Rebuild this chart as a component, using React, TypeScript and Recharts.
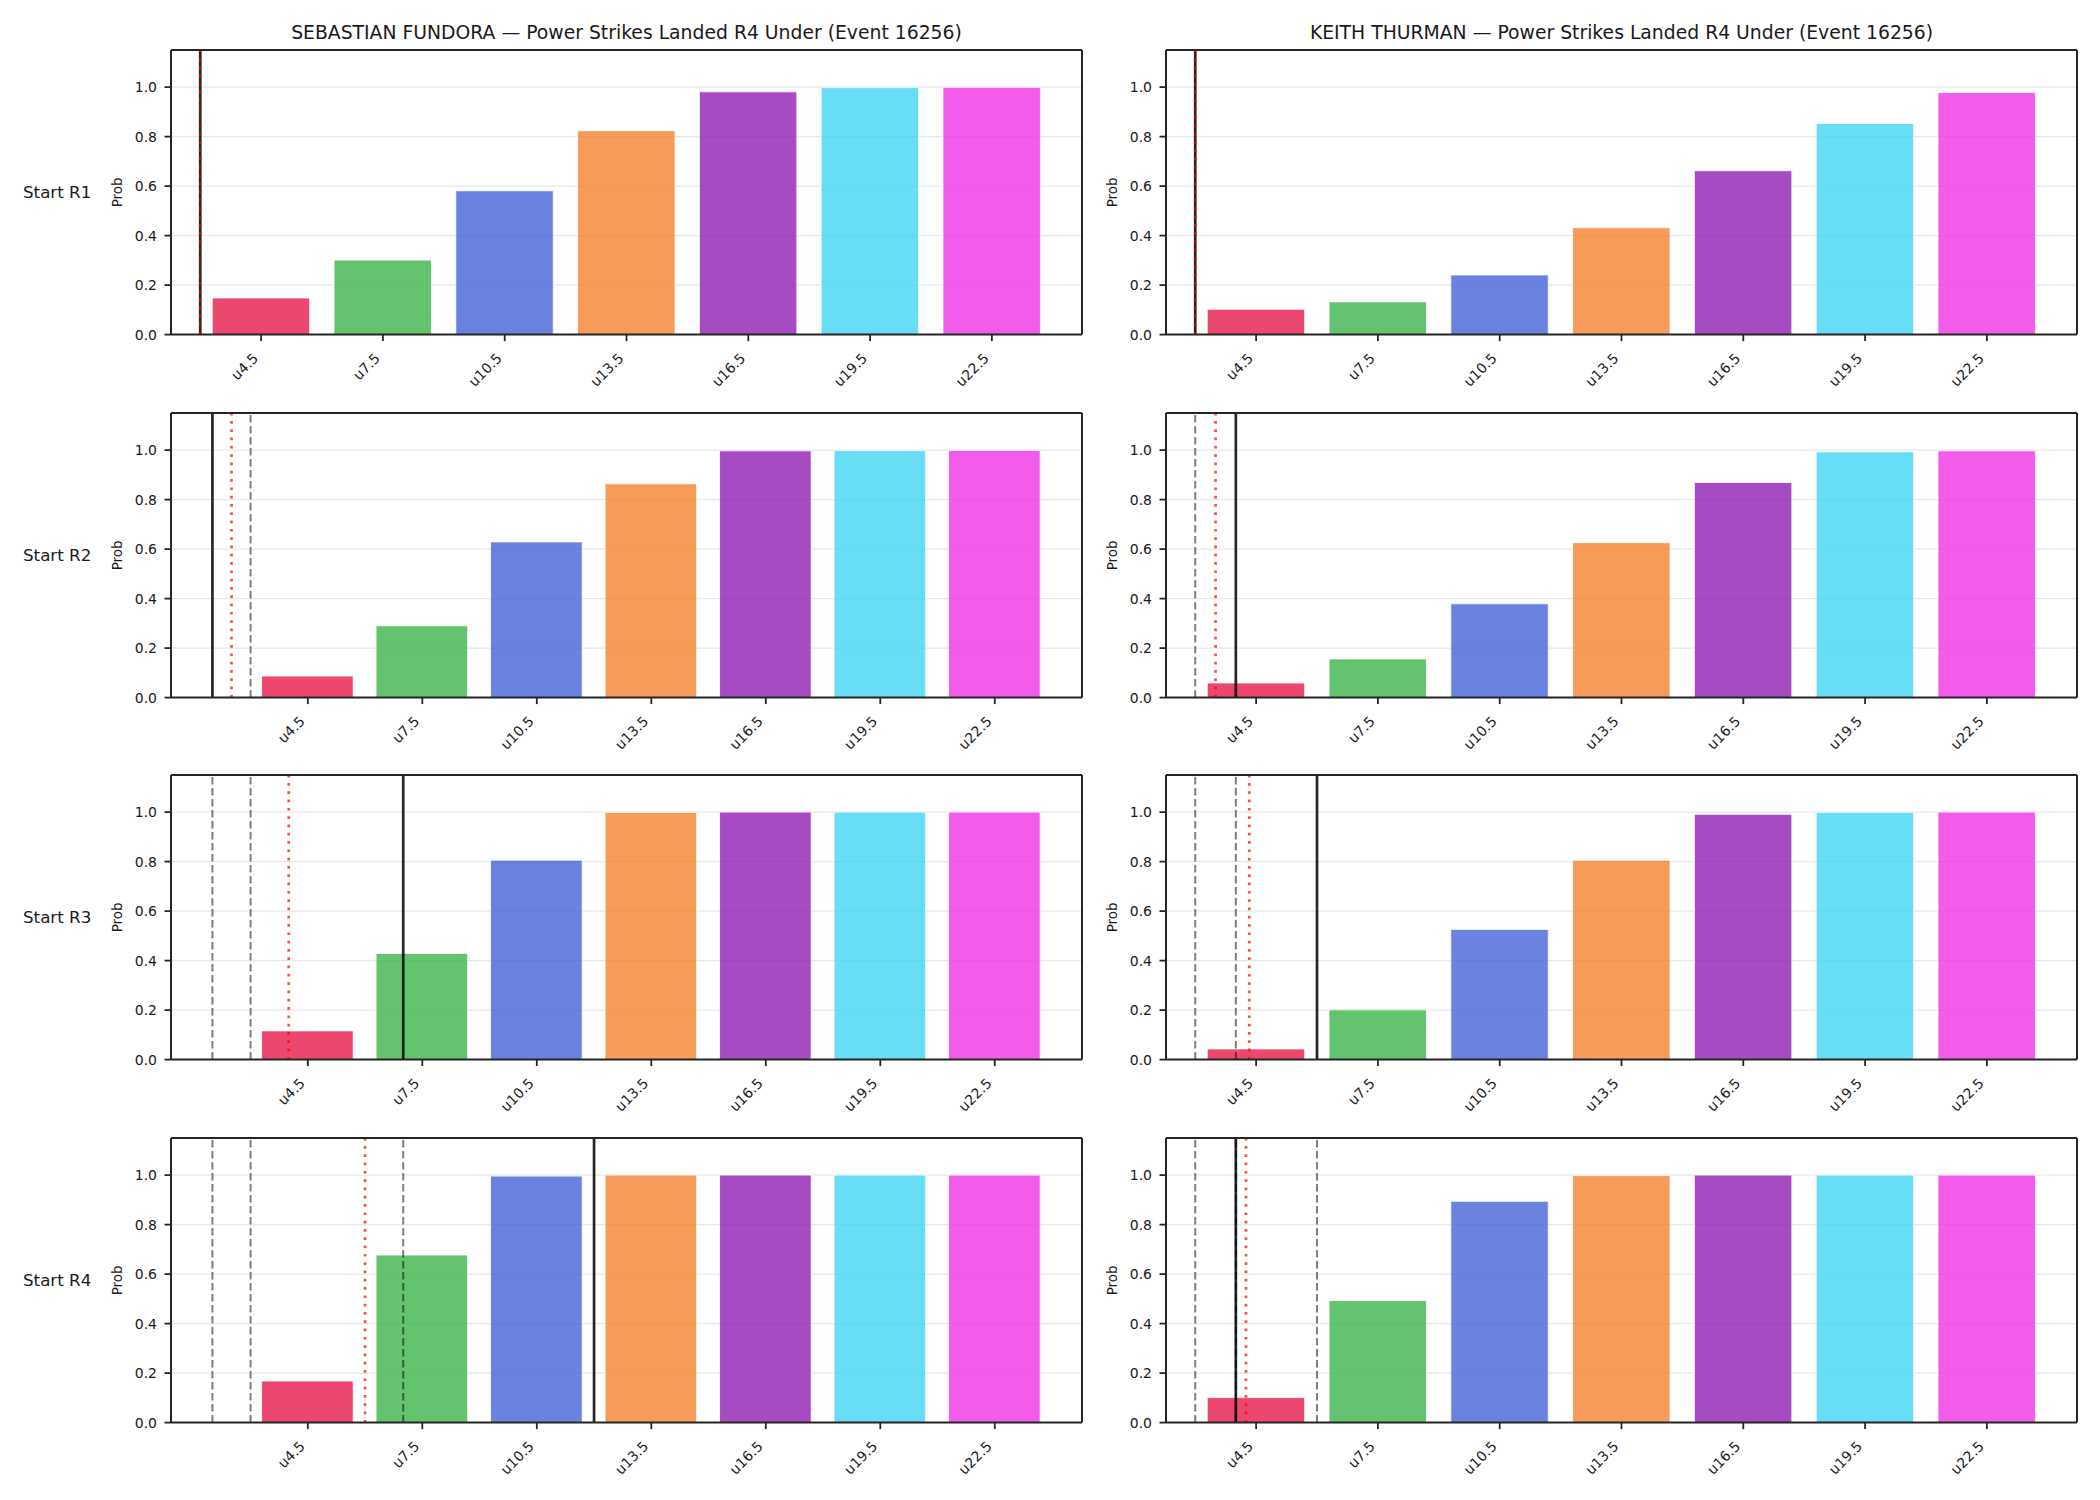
import React from 'react';
import { BarChart, Bar, Cell, XAxis, YAxis, CartesianGrid, ReferenceLine } from 'recharts';

// strike thresholds (bar positions on the x axis, in strikes)
const thresholds = [4.5, 7.5, 10.5, 13.5, 16.5, 19.5, 22.5];
const barColors = ['#e6194b', '#3cb44b', '#4363d8', '#f58231', '#911eb4', '#42d4f4', '#f032e6'];
const roundLabels = ['Start R1', 'Start R2', 'Start R3', 'Start R4'];
const yTicks = [0, 0.2, 0.4, 0.6, 0.8, 1.0];

const fighters = ['SEBASTIAN FUNDORA', 'KEITH THURMAN'];

// P(under) per threshold, by starting round
const fundoraR1 = [0.148, 0.301, 0.581, 0.824, 0.981, 0.998, 0.999];
const fundoraR2 = [0.087, 0.29, 0.629, 0.864, 0.997, 0.998, 0.999];
const fundoraR3 = [0.116, 0.429, 0.806, 0.999, 1.0, 1.0, 1.0];
const fundoraR4 = [0.168, 0.677, 0.996, 1.0, 1.0, 1.0, 1.0];

const thurmanR1 = [0.102, 0.132, 0.241, 0.432, 0.662, 0.853, 0.978];
const thurmanR2 = [0.059, 0.156, 0.379, 0.626, 0.869, 0.993, 0.997];
const thurmanR3 = [0.043, 0.201, 0.526, 0.806, 0.991, 0.999, 1.0];
const thurmanR4 = [0.101, 0.493, 0.894, 0.998, 1.0, 1.0, 1.0];

// marker lines, in strikes
const fundoraCurrent = [3, 2, 7, 12];
const fundoraExpected = [3, 2.5, 4, 6];
const fundoraPrior = [[], [3], [2, 3], [2, 3, 7]];

const thurmanCurrent = [3, 4, 6, 4];
const thurmanExpected = [3, 3.5, 4.33, 4.25];
const thurmanPrior = [[], [3], [3, 4], [3, 4, 6]];

const columns = [
  { probs: [fundoraR1, fundoraR2, fundoraR3, fundoraR4], current: fundoraCurrent, expected: fundoraExpected, prior: fundoraPrior },
  { probs: [thurmanR1, thurmanR2, thurmanR3, thurmanR4], current: thurmanCurrent, expected: thurmanExpected, prior: thurmanPrior },
];

const FONT = '"DejaVu Sans", sans-serif';
const INK = '#1a1a1a';
const SPINE = '#262626';

const PLOT_W = 911;
const PLOT_H = 284.6;
const Y_AXIS_W = 80;
const X_AXIS_H = 70;
const PAD_T = 4;
const PAD_R = 6;
const COL_LEFT = [171, 1166];
const ROW_TOP = [50, 412.7, 774.8, 1138];
const Y_MAX = 1.15;
const BAR_FRAC = 0.8;
const STEP = thresholds[1] - thresholds[0];

// autoscale like the default axes: bars plus 5% margin, widened by any marker outside
function xLimits(marks: number[]) {
  const half = (BAR_FRAC * STEP) / 2;
  let lo = thresholds[0] - half;
  let hi = thresholds[thresholds.length - 1] + half;
  const m = 0.05 * (hi - lo);
  const autoLo = lo - m;
  const autoHi = hi + m;
  marks.forEach((v) => {
    if (v < autoLo) lo = Math.min(lo, v);
    if (v > autoHi) hi = Math.max(hi, v);
  });
  const pad = 0.05 * (hi - lo);
  return [lo - pad, hi + pad];
}

const XTick = (props: any) => {
  const { x, y, payload } = props;
  const tx = x - 2;
  const ty = y + 18;
  return (
    <text x={tx} y={ty} transform={`rotate(-45 ${tx} ${ty})`} textAnchor="end" fontSize={14} fill={INK} fontFamily={FONT}>
      {`u${payload.value}`}
    </text>
  );
};

const Panel = ({ probs, current, expected, prior, left, top }: any) => {
  const data = thresholds.map((t, i) => ({ strikes: t, prob: probs[i] }));
  const [lo, hi] = xLimits([current, expected, ...prior]);
  const barSize = (BAR_FRAC * STEP * PLOT_W) / (hi - lo);

  return (
    <div style={{ position: 'absolute', left: left - Y_AXIS_W, top: top - PAD_T }}>
      <BarChart
        width={Y_AXIS_W + PLOT_W + PAD_R}
        height={PAD_T + PLOT_H + X_AXIS_H}
        data={data}
        margin={{ top: PAD_T, right: PAD_R, left: 0, bottom: 0 }}
      >
        <CartesianGrid horizontal vertical={false} stroke="#b0b0b0" strokeOpacity={0.3} strokeWidth={1.4} />
        <XAxis
          type="number"
          dataKey="strikes"
          domain={[lo, hi]}
          allowDataOverflow
          ticks={thresholds}
          interval={0}
          height={X_AXIS_H}
          tickSize={6.5}
          tickMargin={0}
          tick={XTick}
          axisLine={{ stroke: SPINE, strokeWidth: 2 }}
          tickLine={{ stroke: SPINE, strokeWidth: 1.8 }}
        />
        <YAxis
          type="number"
          domain={[0, Y_MAX]}
          ticks={yTicks}
          width={Y_AXIS_W}
          tickSize={6.5}
          tickMargin={7.5}
          tickFormatter={(v: number) => v.toFixed(1)}
          tick={{ fontSize: 14, fill: INK, fontFamily: FONT }}
          axisLine={{ stroke: SPINE, strokeWidth: 2 }}
          tickLine={{ stroke: SPINE, strokeWidth: 1.8 }}
          label={(p: any) => {
            const vb = p.viewBox || { x: 0, y: PAD_T, width: Y_AXIS_W, height: PLOT_H };
            const cx = vb.x + vb.width - 54;
            const cy = vb.y + vb.height / 2;
            return (
              <text x={cx} y={cy} transform={`rotate(-90 ${cx} ${cy})`} textAnchor="middle" dominantBaseline="central" fontSize={13.5} fill={INK} fontFamily={FONT}>
                Prob
              </text>
            );
          }}
        />
        <Bar dataKey="prob" barSize={barSize} isAnimationActive={false} stroke="#ffffff" strokeWidth={0.8}>
          {data.map((d, i) => (
            <Cell key={d.strikes} fill={barColors[i]} fillOpacity={0.8} />
          ))}
        </Bar>
        {prior.map((v: number, i: number) => (
          <ReferenceLine key={`p${i}`} x={v} stroke="#000" strokeOpacity={0.5} strokeWidth={2} strokeDasharray="7.7 3.3" />
        ))}
        <ReferenceLine x={current} stroke="#000" strokeOpacity={0.85} strokeWidth={2.7} />
        <ReferenceLine x={expected} stroke="#ff0000" strokeOpacity={0.7} strokeWidth={2.7} strokeDasharray="2.7 5.6" />
        <ReferenceLine y={Y_MAX} stroke={SPINE} strokeWidth={2} />
        <ReferenceLine x={hi} stroke={SPINE} strokeWidth={2} />
      </BarChart>
    </div>
  );
};

export default function App() {
  return (
    <div style={{ position: 'absolute', left: 0, top: 0, width: 2100, height: 1500, background: '#fff', fontFamily: FONT }}>
      <svg width={2100} height={1500} style={{ position: 'absolute', left: 0, top: 0 }}>
        {fighters.map((name, c) => (
          <text key={name} x={COL_LEFT[c] + PLOT_W / 2} y={38.5} textAnchor="middle" fontSize={18.8} fill={INK} fontFamily={FONT}>
            {`${name} — Power Strikes Landed R4 Under (Event 16256)`}
          </text>
        ))}
        {roundLabels.map((label, r) => (
          <text key={label} x={23} y={ROW_TOP[r] + PLOT_H / 2 + 6} fontSize={16.7} fill={INK} fontFamily={FONT}>
            {label}
          </text>
        ))}
      </svg>
      {columns.map((col, c) =>
        roundLabels.map((label, r) => (
          <Panel
            key={`${c}-${label}`}
            probs={col.probs[r]}
            current={col.current[r]}
            expected={col.expected[r]}
            prior={col.prior[r]}
            left={COL_LEFT[c]}
            top={ROW_TOP[r]}
          />
        ))
      )}
    </div>
  );
}
